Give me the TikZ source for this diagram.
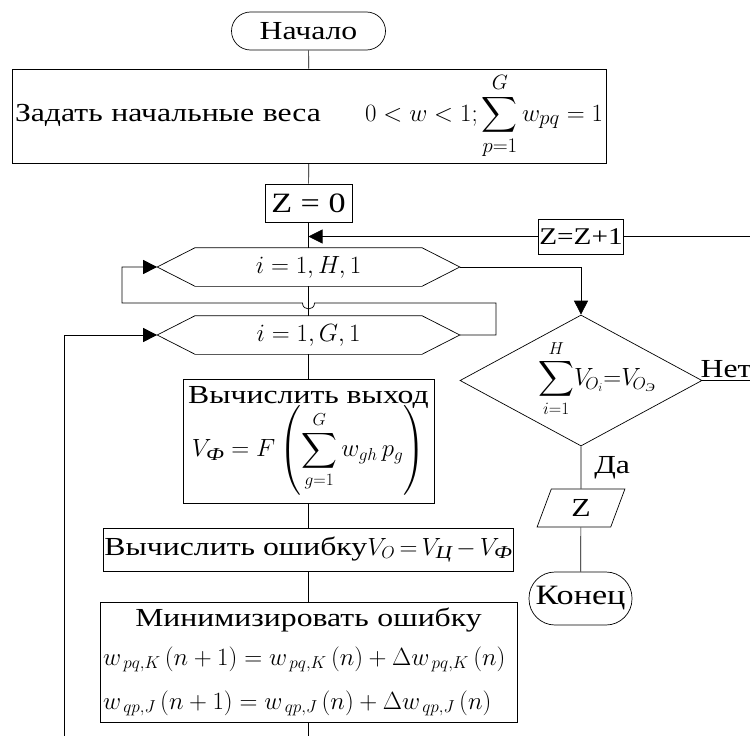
\documentclass[tikz,border=0pt]{standalone}
\usepackage{amsmath}
\usepackage{fontspec}
\setmainfont{Liberation Serif}[FakeStretch=1.22]
\usetikzlibrary{arrows.meta,positioning,shapes.geometric}
\newcommand{\cyr}[1]{\text{\itshape #1}}

\begin{document}
\begin{tikzpicture}[
  x=1pt,y=-1pt,
  line width=0.7pt,
  font=\rmfamily\fontsize{26}{30}\selectfont,
  box/.style={rectangle,draw,inner sep=2pt,align=center},
  term/.style={rectangle,draw,rounded corners=19pt,minimum height=38pt,inner sep=1pt},
  loophex/.style={rectangle,minimum width=302pt,minimum height=38pt,inner sep=0pt},
  cond/.style={diamond,draw,minimum width=242pt,minimum height=131pt,inner sep=0pt,aspect=1.85},
  io/.style={trapezium,draw,trapezium left angle=75,trapezium right angle=105,trapezium stretches=true,minimum width=88pt,minimum height=38pt,inner sep=1pt},
  arr/.style={-{Triangle[length=14pt,width=14pt]}},
  lbl/.style={inner sep=1pt}
]
\useasboundingbox (0,0) rectangle (750,736);
\clip (0,0) rectangle (750,736);

\node[term,minimum width=154pt] (start) at (308.5,31) {Начало};
\node[box,minimum width=594pt,minimum height=94pt,text width=588pt,align=left] (init) at (309,116) {Задать начальные веса\hfill{\fontsize{28}{30}\selectfont$0<w<1;\displaystyle\sum_{p=1}^{G} w_{pq}=1$}};
\node[box,minimum width=87pt,minimum height=38pt,inner sep=1pt,font=\fontsize{28}{30}\selectfont] (zero) at (308.5,203) {Z = 0};
\node[box,minimum height=35pt,inner sep=0.5pt,font=\fontsize{24}{28}\selectfont] (zinc) at (581,236.5) {Z=Z+1};
\node[loophex] (loopH) at (308.5,267) {$i=1,H,1$};
\node[loophex] (loopG) at (308.5,335) {$i=1,G,1$};
\node[cond] (check) at (581,380.5) {};
\node[lbl,font=\fontsize{23}{26}\selectfont] (checkText) at ([xshift=16pt,yshift=2pt]check.center) {$\displaystyle\sum_{i=1}^{H}\!V_{\!O_i}{=}V_{\!O_{\cyr{Э}}}$};
\node[box,minimum width=251pt,minimum height=124pt] (output) at (308.5,441) {Вычислить выход\\[-4pt]
  $\displaystyle V_{\cyr{Ф}}=F\left(\sum_{g=1}^{G} w_{gh}\,p_g\right)$};
\node[box,minimum width=407pt,minimum height=43pt,inner sep=1pt] (error) at (308.5,549.5) {Вычислить ошибку$V_O\,{=}\,V_{\cyr{Ц}}\,{-}\,V_{\cyr{Ф}}$};
\node[box,minimum width=417pt,minimum height=120pt,text width=411pt,align=left] (update) at (308.5,662) {\makebox[411pt][c]{Минимизировать ошибку}\\[9pt]
  {\fontsize{23}{30}\selectfont $w_{\,pq,K}\,(n+1)=w_{\,pq,K}\,(n)+\Delta w_{\,pq,K}\,(n)$}\\[14pt]
  {\fontsize{23}{30}\selectfont $w_{\,qp,J}\,(n+1)=w_{\,qp,J}\,(n)+\Delta w_{\,qp,J}\,(n)$}};
\node[io] (result) at (581,508) {Z};
\node[term,minimum width=103pt,minimum height=53pt,rounded corners=26pt,font=\fontsize{28}{30}\selectfont] (finish) at (580.5,598.5) {Конец};
\node[lbl,anchor=south west] (no) at ([xshift=-3pt,yshift=1pt]check.east) {Нет};

% loop headers
\foreach \h in {loopH,loopG}
  \draw (\h.west) -- ([xshift=38pt]\h.north west) -- ([xshift=-38pt]\h.north east)
    -- (\h.east) -- ([xshift=-38pt]\h.south east) -- ([xshift=38pt]\h.south west) -- cycle;

\coordinate (edgeNo) at (760,380.5);
\coordinate (edgeUp) at (760,236.5);
\coordinate (loopR) at (496,303);
\coordinate (loopL) at (122,303);
\coordinate (hopA) at (314.5,303);
\coordinate (hopB) at (302.5,303);
\coordinate (edgeBot) at (308.5,745);
\coordinate (edgeRet) at (64,745);

\draw (start) -- (init);
\draw (init) -- (zero);
\draw (zero) -- (loopH.north);
\draw (loopH.south) -- (loopG.north);
\draw (loopG.south) -- (output);
\draw (output) -- (error);
\draw (error) -- (update);
\draw (update) -- (edgeBot);
\draw[arr] (zinc.west) -- (zinc.west -| zero.south);
\draw (check.east) -- (edgeNo) -- (edgeUp) -- (zinc.east);
\draw[arr] (loopH.east) -| (check.north);
\draw[arr] (loopG.east) -| (loopR) -- (hopA) .. controls ([yshift=-8pt]hopA) and ([yshift=-8pt]hopB) .. (hopB) -- (loopL) |- (loopH.west);
\draw[arr] (edgeRet) |- (loopG.west);
\draw (check.south) -- node[lbl,right=12pt] (yes) {Да} (result);
\draw (result) -- (finish);
\end{tikzpicture}
\end{document}
